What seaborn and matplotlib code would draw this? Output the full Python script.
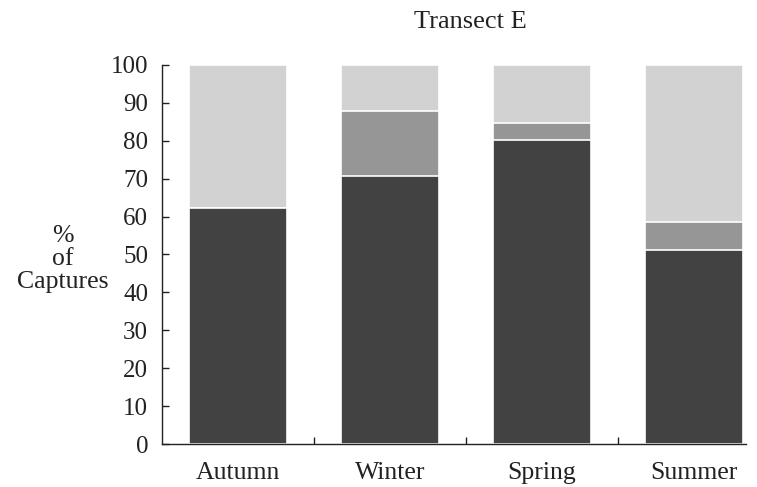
import matplotlib
matplotlib.use("Agg")
import matplotlib.pyplot as plt
import seaborn as sns
import pandas as pd
import numpy as np

seasons = ["Autumn", "Winter", "Spring", "Summer"]
dark = [62.3, 70.7, 80.2, 51.3]
medium = [0.0, 17.0, 4.5, 7.3]
light = [37.7, 12.3, 15.3, 41.4]
yticks = [0, 10, 20, 30, 40, 50, 60, 70, 80, 90, 100]

sns.set_theme(style="white")
plt.rcParams['font.family'] = ['Liberation Serif', 'DejaVu Serif']

fig = plt.figure(figsize=(7.57, 4.87), dpi=100)
ax = fig.add_axes([0.214, 0.088, 0.771, 0.779])

c1 = np.array(dark)
c2 = c1 + np.array(medium)
c3 = c2 + np.array(light)

layers = [(c3, "#d2d2d2"), (c2, "#969696"), (c1, "#424242")]
for vals, col in layers:
    df = pd.DataFrame({"season": seasons, "value": vals})
    sns.barplot(data=df, x="season", y="value", color=col, width=0.645,
                edgecolor="white", linewidth=1.2, saturation=1, ax=ax, errorbar=None)

ax.set_xlim(-0.5, 3.34)
ax.set_ylim(0, 100)
ax.set_yticks(yticks)
ax.set_yticklabels([str(t) for t in yticks], fontsize=18)
ax.set_xticks([0.5, 1.5, 2.5], minor=False)
ax.set_xticklabels([])
ax.tick_params(axis="x", direction="in", length=5, width=1, colors="#222222", bottom=True)
ax.tick_params(axis="y", direction="in", length=5, width=1, colors="#222222", left=True, pad=10)
for i, s in enumerate(seasons):
    ax.text(i, -4.6, s, ha="center", va="top", fontsize=18.5, color="#222222")
for sp in ["top", "right"]:
    ax.spines[sp].set_visible(False)
for sp in ["left", "bottom"]:
    ax.spines[sp].set_color("#222222")
    ax.spines[sp].set_linewidth(1.0)
ax.set_xlabel("")
ax.set_ylabel("")
ax.grid(False)

fig.text(0.621, 0.955, "Transect E", ha="center", va="center", fontsize=19, color="#222222")
fig.text(0.083, 0.468, "%\nof\nCaptures", ha="center", va="center", fontsize=18.5,
         color="#222222", linespacing=1.05)

fig.savefig("out.png", dpi=100)
